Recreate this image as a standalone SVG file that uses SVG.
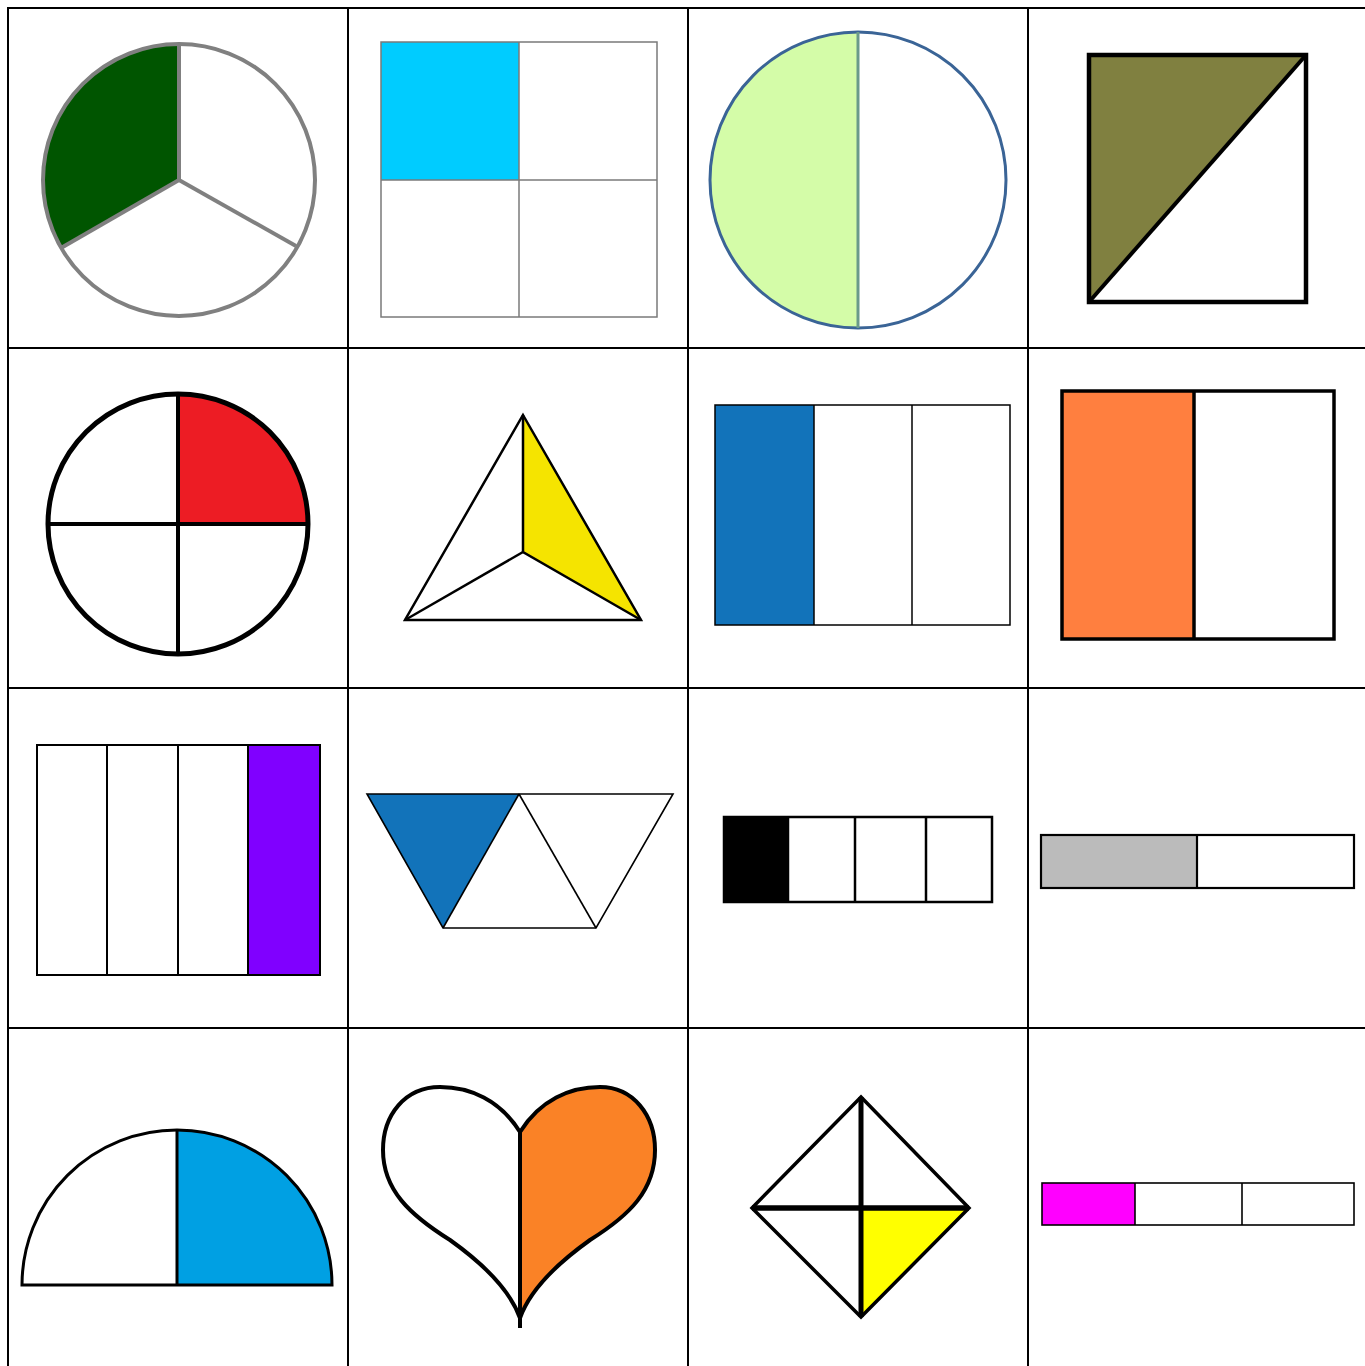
<svg xmlns="http://www.w3.org/2000/svg" width="1365" height="1366" viewBox="0 0 1365 1366">
<style>
.grid{stroke:#000;stroke-width:2;fill:none}
.k{stroke:#000;fill:none;stroke-linejoin:miter}
.w{fill:#fff}
</style>
<rect width="1365" height="1366" fill="#fff"/>
<g id="grid" class="grid">
<line x1="7" y1="8" x2="1365" y2="8"/>
<line x1="7" y1="348" x2="1365" y2="348"/>
<line x1="7" y1="688" x2="1365" y2="688"/>
<line x1="7" y1="1028" x2="1365" y2="1028"/>
<line x1="8" y1="7" x2="8" y2="1366"/>
<line x1="348" y1="7" x2="348" y2="1366"/>
<line x1="688" y1="7" x2="688" y2="1366"/>
<line x1="1028" y1="7" x2="1028" y2="1366"/>
</g>

<g id="pie-thirds">
<circle cx="179" cy="180" r="136" fill="#fff"/>
<path d="M179,180 L179,44 A136,136 0 0 0 61,248 Z" fill="#005500"/>
<g stroke="#808080" stroke-width="4" fill="none">
<circle cx="179" cy="180" r="136"/>
<line x1="179" y1="44" x2="179" y2="180"/>
<line x1="179" y1="180" x2="61" y2="248"/>
<line x1="179" y1="180" x2="296" y2="246"/>
</g>
</g>

<g id="square-quarters">
<rect x="381" y="42" width="138" height="138" fill="#00CCFF"/>
<g stroke="#7a7a7a" stroke-width="1.5" fill="none">
<rect x="381" y="42" width="276" height="275"/>
<line x1="519" y1="42" x2="519" y2="317"/>
<line x1="381" y1="180" x2="657" y2="180"/>
</g>
</g>

<g id="circle-halves">
<path d="M858,32 A148,148 0 0 0 858,328 Z" fill="#D4FCA8"/>
<circle cx="858" cy="180" r="148" fill="none" stroke="#3A6496" stroke-width="3"/>
<line x1="858" y1="32" x2="858" y2="328" stroke="#6A9A8A" stroke-width="3"/>
</g>

<g id="square-diagonal">
<polygon points="1089,55 1306,55 1089,302" fill="#808040"/>
<rect x="1089" y="55" width="217" height="247" class="k" stroke-width="4.5"/>
<line x1="1306" y1="55" x2="1089" y2="302" stroke="#000" stroke-width="4"/>
</g>

<g id="circle-quarters">
<circle cx="178" cy="524" r="130" fill="#fff"/>
<path d="M178,524 L178,394 A130,130 0 0 1 308,524 Z" fill="#ED1C24"/>
<circle cx="178" cy="524" r="130" class="k" stroke-width="5"/>
<line x1="178" y1="394" x2="178" y2="654" stroke="#000" stroke-width="4"/>
<line x1="48" y1="524" x2="308" y2="524" stroke="#000" stroke-width="4"/>
</g>

<g id="triangle-thirds">
<polygon points="523,415 523,552 641,620" fill="#F5E400"/>
<g class="k" stroke-width="2.5" stroke-linejoin="round">
<polygon points="523,415 641,620 405,620"/>
<polyline points="523,415 523,552 641,620"/>
<line x1="523" y1="552" x2="405" y2="620"/>
</g>
</g>

<g id="rect-thirds">
<rect x="715" y="405" width="99" height="220" fill="#1273BA"/>
<g class="k" stroke-width="1.5">
<rect x="715" y="405" width="295" height="220"/>
<line x1="814" y1="405" x2="814" y2="625"/>
<line x1="912" y1="405" x2="912" y2="625"/>
</g>
</g>

<g id="rect-halves">
<rect x="1062" y="391" width="132" height="248" fill="#FF7F3F"/>
<g class="k" stroke-width="3.5" stroke="#111">
<rect x="1062" y="391" width="272" height="248"/>
<line x1="1194" y1="391" x2="1194" y2="639"/>
</g>
</g>

<g id="rect-fourths">
<rect x="248" y="745" width="72" height="230" fill="#8000FF"/>
<g class="k" stroke-width="2" stroke="#111">
<rect x="37" y="745" width="283" height="230"/>
<line x1="107" y1="745" x2="107" y2="975"/>
<line x1="178" y1="745" x2="178" y2="975"/>
<line x1="248" y1="745" x2="248" y2="975"/>
</g>
</g>

<g id="trapezoid-thirds">
<polygon points="367,794 519,794 443,928" fill="#1273BA"/>
<g class="k" stroke-width="1.6" stroke="#111" stroke-linejoin="round">
<polygon points="367,794 673,794 596,928 443,928"/>
<line x1="519" y1="794" x2="443" y2="928"/>
<line x1="519" y1="794" x2="596" y2="928"/>
</g>
</g>

<g id="bar-fourths">
<rect x="724" y="817" width="64" height="85" fill="#000"/>
<g class="k" stroke-width="2.5">
<rect x="724" y="817" width="268" height="85"/>
<line x1="788" y1="817" x2="788" y2="902"/>
<line x1="855" y1="817" x2="855" y2="902"/>
<line x1="926" y1="817" x2="926" y2="902"/>
</g>
</g>

<g id="bar-halves">
<rect x="1041" y="835" width="156" height="53" fill="#BBBBBB"/>
<g class="k" stroke-width="2.2" stroke="#111">
<rect x="1041" y="835" width="313" height="53"/>
<line x1="1197" y1="835" x2="1197" y2="888"/>
</g>
</g>

<g id="semicircle-halves">
<path d="M177,1285 L177,1130 A155,155 0 0 1 332,1285 Z" fill="#00A0E3"/>
<g class="k" stroke-width="3" stroke="#222">
<path d="M22,1285 A155,155 0 0 1 332,1285 Z"/>
<line x1="177" y1="1130" x2="177" y2="1285"/>
</g>
</g>

<g id="heart-halves">
<path d="M520,1132 C540,1100 570,1087 600,1087 C633,1087 655,1115 655,1150 C655,1190 630,1215 590,1240 C555,1265 530,1290 520,1318 Z" fill="#FA8226"/>
<g class="k" stroke-width="4" stroke="#222" stroke-linejoin="round">
<path d="M520,1132 C500,1100 470,1087 440,1087 C405,1087 383,1115 383,1150 C383,1190 410,1215 450,1240 C485,1265 510,1290 520,1318 C530,1290 555,1265 590,1240 C630,1215 655,1190 655,1150 C655,1115 633,1087 600,1087 C570,1087 540,1100 520,1132 Z"/>
<line x1="520" y1="1132" x2="520" y2="1328"/>
</g>
</g>

<g id="diamond-quarters">
<polygon points="861,1208 969,1208 861,1317" fill="#FFFF00"/>
<g class="k" stroke-width="3.5">
<polygon points="861,1097 969,1208 861,1317 752,1208"/>
</g>
<line x1="861" y1="1097" x2="861" y2="1317" stroke="#000" stroke-width="5"/>
<line x1="752" y1="1208" x2="969" y2="1208" stroke="#000" stroke-width="5.5"/>
</g>

<g id="bar-thirds">
<rect x="1042" y="1183" width="93" height="42" fill="#FF00FF"/>
<g class="k" stroke-width="1.6" stroke="#444">
<rect x="1042" y="1183" width="312" height="42"/>
<line x1="1135" y1="1183" x2="1135" y2="1225"/>
<line x1="1242" y1="1183" x2="1242" y2="1225"/>
</g>
</g>
</svg>
